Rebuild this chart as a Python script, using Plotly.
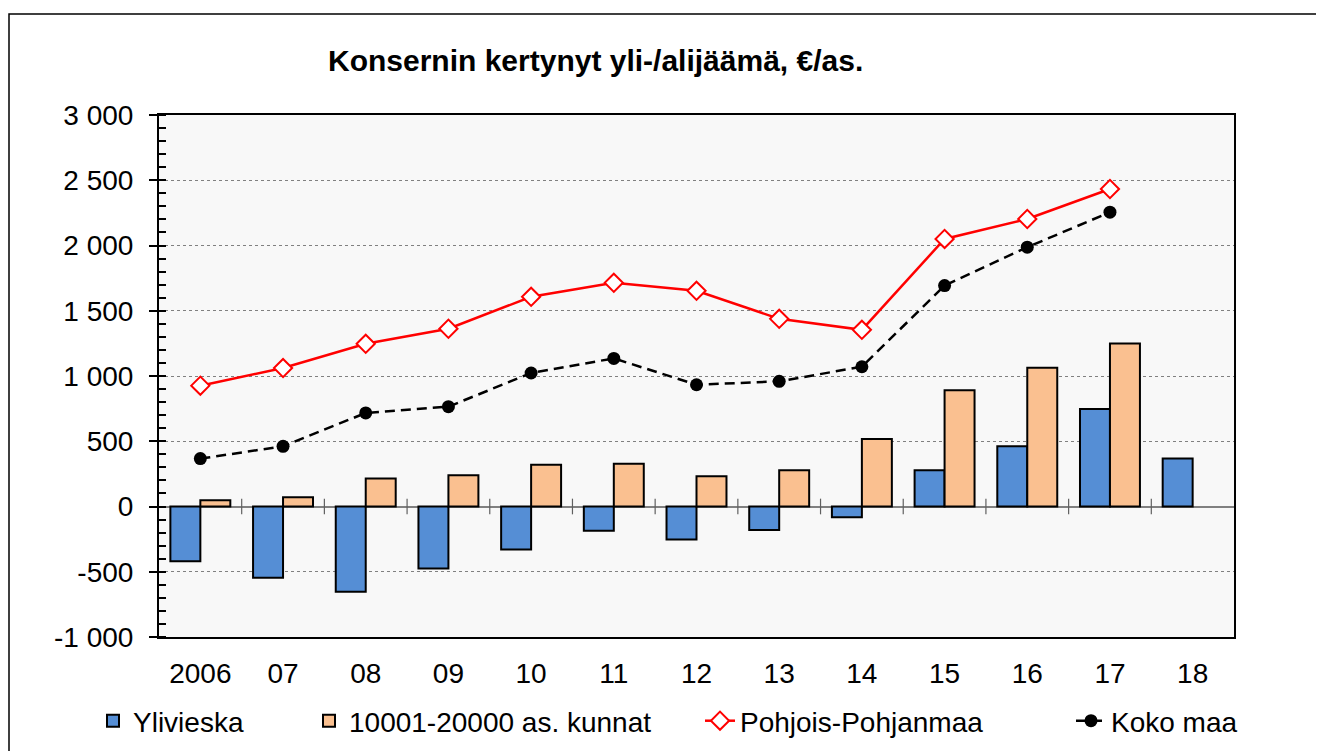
import plotly.graph_objects as go

years = ["2006", "07", "08", "09", "10", "11", "12", "13", "14", "15", "16", "17", "18"]
ylivieska = [-420, -546, -653, -475, -329, -186, -252, -181, -82, 278, 461, 747, 367]
kunnat = [48, 71, 214, 240, 319, 327, 232, 278, 518, 890, 1063, 1250, None]
pohjois = [926, 1061, 1247, 1362, 1607, 1714, 1653, 1438, 1354, 2050, 2203, 2433, None]
koko = [367, 461, 717, 765, 1023, 1135, 933, 959, 1071, 1693, 1987, 2255, None]
ytick_vals = [-1000, -500, 0, 500, 1000, 1500, 2000, 2500, 3000]
ytick_text = ["-1 000", "-500", "0", "500", "1 000", "1 500", "2 000", "2 500", "3 000"]

FONT = "Liberation Sans, Arial, sans-serif"

# page body has an 8px margin; compensate so the figure lines up with the window
OFF = 8
L, T, R, B = 159, 115, 1234, 637
PW, PH = R - L, B - T

def px_x(x):
    return (x - L) / PW

def px_y(y):
    return (B - y) / PH

fig = go.Figure()
fig.add_trace(go.Bar(x=years, y=ylivieska, name="Ylivieska",
                     marker=dict(color="#558ED5", line=dict(color="black", width=2)),
                     legend="legend"))
fig.add_trace(go.Bar(x=years, y=kunnat, name="10001-20000 as. kunnat",
                     marker=dict(color="#FAC090", line=dict(color="black", width=2)),
                     legend="legend2"))
fig.add_trace(go.Scatter(x=years, y=pohjois, name="Pohjois-Pohjanmaa", mode="lines+markers",
                         line=dict(color="#FF0000", width=2.5),
                         marker=dict(symbol="diamond", size=14, color="white",
                                     line=dict(color="#FF0000", width=2)),
                         legend="legend3"))
fig.add_trace(go.Scatter(x=years, y=koko, name="Koko maa", mode="lines+markers",
                         line=dict(color="black", width=2.5, dash="10px,6px"),
                         marker=dict(symbol="circle", size=13, color="black"),
                         legend="legend4"))

# small category boundary ticks on the zero line
for i in range(len(years) - 1):
    fig.add_shape(type="line", xref="x", yref="y", x0=i + 0.5, x1=i + 0.5, y0=-60, y1=60,
                  line=dict(color="#606060", width=1.2))

# outer chart border
fig.add_shape(type="rect", xref="paper", yref="paper", x0=px_x(9), x1=px_x(1318),
              y0=px_y(800), y1=px_y(14), line=dict(color="black", width=1.5), layer="below")

legend_common = dict(orientation="h", yanchor="middle", y=px_y(721), xanchor="left",
                     font=dict(family=FONT, size=28, color="black"), bgcolor="rgba(0,0,0,0)",
                     itemwidth=30, tracegroupgap=0)

fig.update_layout(
    width=1324 - OFF, height=751 - OFF,
    margin=dict(l=L - OFF, r=1324 - R, t=T - OFF, b=751 - B, autoexpand=False),
    paper_bgcolor="white", plot_bgcolor="#F8F8F8",
    font=dict(family=FONT, size=28, color="black"),
    barmode="group", bargap=0.275, bargroupgap=0,
    showlegend=True,
    annotations=[dict(text="<b>Konsernin kertynyt yli-/alijäämä, €/as.</b>", xref="paper", yref="paper",
                      x=px_x(595), y=px_y(60), xanchor="center", yanchor="middle",
                      showarrow=False, font=dict(family=FONT, size=30, color="black"))],
    legend=dict(legend_common, x=px_x(93)),
    legend2=dict(legend_common, x=px_x(309)),
    legend3=dict(legend_common, x=px_x(700)),
    legend4=dict(legend_common, x=px_x(1071)),
    xaxis=dict(type="category", range=[-0.5, len(years) - 0.5],
               showline=True, mirror=True, linecolor="black", linewidth=2,
               ticks="outside", ticklen=10, tickcolor="rgba(0,0,0,0)", automargin=False,
               tickfont=dict(family=FONT, size=28, color="black"), showgrid=False),
    yaxis=dict(range=[-1000, 3000], tickvals=ytick_vals, ticktext=ytick_text,
               showline=True, mirror=True, linecolor="black", linewidth=2,
               ticks="outside", ticklen=8, tickcolor="black", tickwidth=1.5,
               ticklabelstandoff=10, automargin=False,
               tickfont=dict(family=FONT, size=28, color="black"),
               showgrid=True, gridcolor="#808080", griddash="dot", gridwidth=1,
               zeroline=True, zerolinecolor="#808080", zerolinewidth=1.5,
               minor=dict(ticks="inside", dtick=100, ticklen=7, tickcolor="black", tickwidth=1.5,
                          showgrid=False)),
)

fig.write_html("out.html")
